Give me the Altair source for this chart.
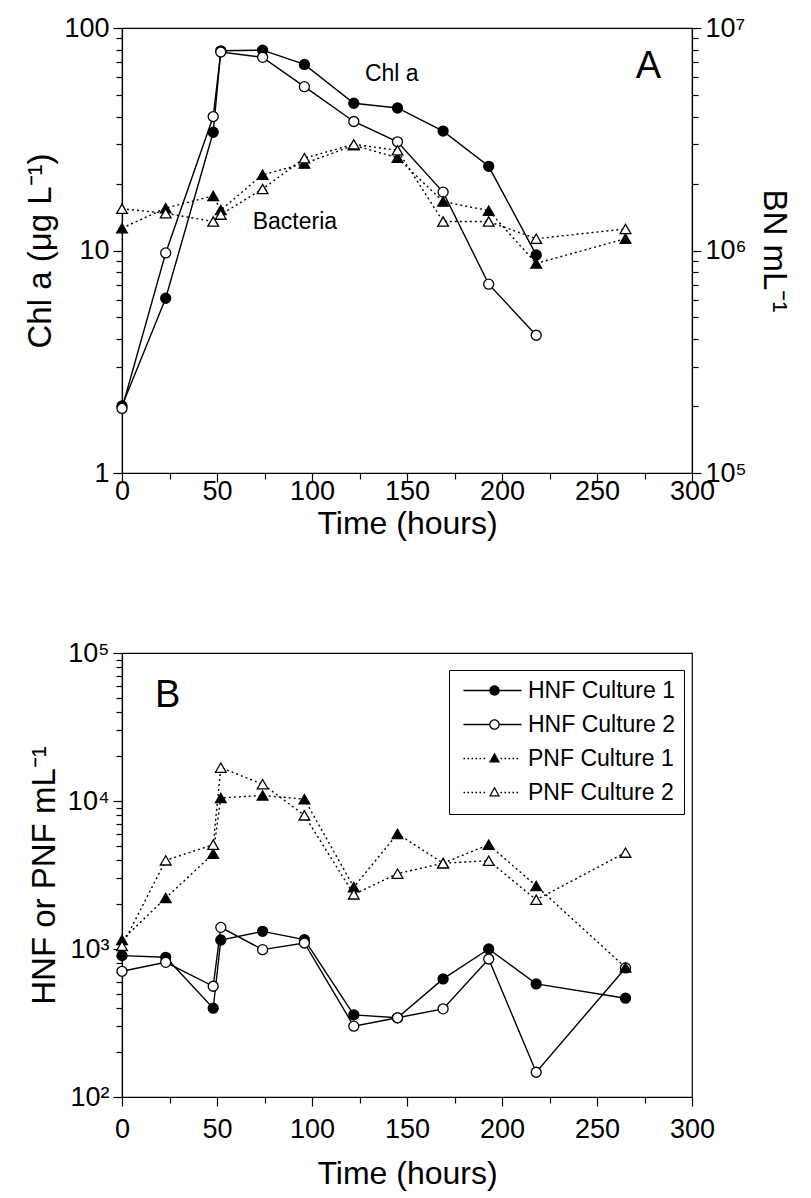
import altair as alt
import pandas as pd

# ---------------- data ----------------
times = [0, 23, 48, 52, 74, 96, 122, 145, 169, 193, 218, 265]

# Panel A: Chl a (ug/L), left axis
chl_culture1 = [2.0, 6.1, 34, 79, 79.5, 68.6, 45.9, 43.7, 34.4, 23.9, 9.55, None]
chl_culture2 = [1.95, 9.75, 40, 78, 73.8, 54.5, 38, 30.8, 18.3, 7.06, 4.16, None]
# Panel A: bacteria (BN/mL), right axis
bact_culture1 = [1.26e6, 1.55e6, 1.76e6, 1.52e6, 2.19e6, 2.46e6, 2.97e6, 2.61e6, 1.66e6, 1.51e6, 0.875e6, 1.13e6]
bact_culture2 = [1.54e6, 1.47e6, 1.35e6, 1.45e6, 1.89e6, 2.60e6, 3.0e6, 2.82e6, 1.35e6, 1.35e6, 1.13e6, 1.25e6]

# Panel B: HNF / PNF per mL
hnf_culture1 = [902, 879, 398, 1150, 1316, 1156, 359, 343, 628, 1000, 581, 465]
hnf_culture2 = [707, 813, 560, 1400, 990, 1098, 301, 343, 394, 856, 147, 745]
pnf_culture1 = [1150, 2210, 4400, 10500, 10900, 10300, 2620, 6000, 3800, 5070, 2670, 750]
pnf_culture2 = [1050, 3970, 5070, 16800, 13000, 8000, 2340, 3230, 3800, 3950, 2150, 4480]

legend_names = ["HNF Culture 1", "HNF Culture 2", "PNF Culture 1", "PNF Culture 2"]

# annotation positions in data units
chl_label = ("Chl a", 142, 62)
bact_label = ("Bacteria", 91, 1.35e6)
panelA_label = ("A", 277, 67)
panelB_label = ("B", 24, 51000)


def long_df(names_values):
    rows = []
    for name, vals in names_values:
        for t, v in zip(times, vals):
            if v is not None:
                rows.append({"t": t, "v": v, "series": name})
    return pd.DataFrame(rows)


dfChl = long_df([("Chl 1", chl_culture1), ("Chl 2", chl_culture2)])
dfBact = long_df([("Bact 1", bact_culture1), ("Bact 2", bact_culture2)])
dfB = long_df(list(zip(legend_names, [hnf_culture1, hnf_culture2, pnf_culture1, pnf_culture2])))

FONT = "Liberation Sans"
TICK_MAJOR = 9
TICK_MINOR = 6
YTITLE = 33

x_ticks = list(range(0, 301, 25))


def make_x(label_pad, title_pad):
    return alt.X(
        "t:Q",
        scale=alt.Scale(domain=[0, 300], nice=False, zero=False),
        axis=alt.Axis(
            values=x_ticks,
            labelExpr="datum.value % 50 == 0 ? datum.label : ''",
            tickSize={"condition": {"test": "datum.value % 50 == 0", "value": TICK_MAJOR}, "value": TICK_MINOR},
            title="Time (hours)",
            titleFontSize=32,
            labelFlush=False,
            labelOverlap=False,
            labelPadding=label_pad,
            titlePadding=title_pad,
        ),
    )


xA = make_x(-4, 4)
xB = make_x(10, 16)


def log_values(lo_exp, hi_exp):
    vals = []
    for e in range(lo_exp, hi_exp):
        for m in range(1, 10):
            vals.append(m * 10 ** e)
    vals.append(10 ** hi_exp)
    return vals


major_test = "abs(log(datum.value)/LN10 - round(log(datum.value)/LN10)) < 1e-6"
sup = {"0": "⁰", "1": "¹", "2": "²", "3": "³", "4": "⁴", "5": "⁵", "6": "⁶", "7": "⁷"}


def pow_label_expr(lo, hi):
    parts = []
    for e in range(lo, hi + 1):
        parts.append(f"abs(datum.value - {10 ** e}) < {10 ** e * 1e-6} ? '10{sup[str(e)]}'")
    return " : ".join(parts) + " : ''"


yA_left = alt.Y(
    "v:Q",
    scale=alt.Scale(type="log", domain=[1, 100], nice=False),
    axis=alt.Axis(
        orient="left",
        values=log_values(0, 2),
        labelExpr="(datum.value == 1 || datum.value == 10 || datum.value == 100) ? datum.label : ''",
        tickSize={"condition": {"test": major_test, "value": TICK_MAJOR}, "value": TICK_MINOR},
        title="Chl a (μg L⁻¹)",
        titleFontSize=YTITLE,
        labelOverlap=False,
        labelPadding=4,
        titlePadding=6,
        format="d",
    ),
)

yA_right = alt.Y(
    "v:Q",
    scale=alt.Scale(type="log", domain=[1e5, 1e7], nice=False),
    axis=alt.Axis(
        orient="right",
        values=log_values(5, 7),
        labelExpr=pow_label_expr(5, 7),
        tickSize={"condition": {"test": major_test, "value": TICK_MAJOR}, "value": TICK_MINOR},
        title="BN mL⁻¹",
        titleFontSize=YTITLE,
        labelOverlap=False,
        labelPadding=4,
        titlePadding=10,
    ),
)

yB = alt.Y(
    "v:Q",
    scale=alt.Scale(type="log", domain=[1e2, 1e5], nice=False),
    axis=alt.Axis(
        orient="left",
        values=log_values(2, 5),
        labelExpr=pow_label_expr(2, 5),
        tickSize={"condition": {"test": major_test, "value": TICK_MAJOR}, "value": TICK_MINOR},
        title="HNF or PNF mL⁻¹",
        titleFontSize=YTITLE,
        labelOverlap=False,
        labelPadding=4,
        titlePadding=6,
    ),
)


def series_layers(df, name, x, y, dashed, shape, filled):
    base = alt.Chart(df).transform_filter(alt.datum.series == name)
    line_kw = dict(color="black", strokeWidth=1.4)
    if dashed:
        line_kw["strokeDash"] = [2, 3]
    line = base.mark_line(**line_kw).encode(x=x, y=y)
    pts = base.mark_point(
        shape=shape,
        size=100 if shape == "circle" else 115,
        filled=True,
        fill="black" if filled else "white",
        stroke="black",
        strokeWidth=1.3,
        opacity=1,
    ).encode(x=x, y=y)
    return line, pts


def text_layer(label, x, y, size):
    txt, tx, ty = label
    df = pd.DataFrame({"t": [tx], "v": [ty], "txt": [txt]})
    return alt.Chart(df).mark_text(
        font=FONT, fontSize=size, color="black", align="center", baseline="middle"
    ).encode(x=x, y=y, text="txt:N")


# ---------------- Panel A ----------------
c1l, c1p = series_layers(dfChl, "Chl 1", xA, yA_left, False, "circle", True)
c2l, c2p = series_layers(dfChl, "Chl 2", xA, yA_left, False, "circle", False)
b1l, b1p = series_layers(dfBact, "Bact 1", xA, yA_right, True, "triangle-up", True)
b2l, b2p = series_layers(dfBact, "Bact 2", xA, yA_right, True, "triangle-up", False)

chl_group = alt.layer(
    c1l, c2l, c1p, c2p,
    text_layer(chl_label, xA, yA_left, 23),
    text_layer(panelA_label, xA, yA_left, 38),
)
bact_group = alt.layer(b1l, b2l, b1p, b2p, text_layer(bact_label, xA, yA_right, 23))

panelA = alt.layer(chl_group, bact_group).resolve_scale(y="independent").properties(width=570, height=445)

# ---------------- Panel B ----------------
h1l, h1p = series_layers(dfB, "HNF Culture 1", xB, yB, False, "circle", True)
h2l, h2p = series_layers(dfB, "HNF Culture 2", xB, yB, False, "circle", False)
p1l, p1p = series_layers(dfB, "PNF Culture 1", xB, yB, True, "triangle-up", True)
p2l, p2p = series_layers(dfB, "PNF Culture 2", xB, yB, True, "triangle-up", False)


# legend symbols: line + marker drawn as filled paths (pixel units, symbolSize=4)
X0, X1, MX = -6.0, 52.0, 25.0


def solid_seg(a, b):
    return f"M{a:.2f},-0.7H{b:.2f}V0.7H{a:.2f}Z"


def dotted_seg(a, b):
    out = []
    x = a
    while x + 1.6 <= b:
        out.append(f"M{x:.2f},-0.8h1.6v1.6h-1.6Z")
        x += 4.0
    return "".join(out)


def circle(r, cw=True):
    s = 1 if cw else 0
    return f"M{MX + r:.2f},0A{r},{r} 0 1,{s} {MX - r:.2f},0A{r},{r} 0 1,{s} {MX + r:.2f},0Z"


def tri(scale, cw=True):
    cy = 0.67
    pts = [(0, -6.67), (5.5, 3.33), (-5.5, 3.33)]
    pts = [(MX + px * scale, cy + py * scale) for px, py in pts]
    if not cw:
        pts = [pts[0], pts[2], pts[1]]
    return "M" + "L".join(f"{px:.2f},{py:.2f}" for px, py in pts) + "Z"


path_hnf1 = solid_seg(X0, X1) + circle(5.2)
path_hnf2 = solid_seg(X0, MX - 5.3) + solid_seg(MX + 5.3, X1) + circle(5.3) + circle(4.0, cw=False)
path_pnf1 = dotted_seg(X0, MX - 6) + dotted_seg(MX + 6, X1) + tri(1.0)
path_pnf2 = dotted_seg(X0, MX - 6) + dotted_seg(MX + 6, X1) + tri(1.0) + tri(0.62, cw=False)

legend_layer = alt.Chart(dfB).mark_point(filled=True, color="black", opacity=0, size=4).encode(
    x=xB,
    y=yB,
    shape=alt.Shape(
        "series:N",
        scale=alt.Scale(domain=legend_names, range=[path_hnf1, path_hnf2, path_pnf1, path_pnf2]),
        legend=alt.Legend(
            title=None,
            orient="none",
            legendX=327,
            legendY=17,
            padding=9,
            strokeColor="black",
            fillColor="white",
            labelFont=FONT,
            labelFontSize=23,
            labelColor="black",
            labelOffset=47,
            symbolSize=4,
            symbolStrokeWidth=0,
            symbolFillColor="black",
            symbolOpacity=1,
            rowPadding=10,
            labelLimit=300,
        ),
    ),
)

panelB = alt.layer(
    h1l, h2l, p1l, p2l, h1p, h2p, p1p, p2p,
    text_layer(panelB_label, xB, yB, 38),
    legend_layer,
).properties(width=570, height=444)

chart = (
    alt.vconcat(panelA, panelB, spacing=98)
    .resolve_legend(shape="independent")
    .properties(padding={"left": 24, "top": 13, "right": 4, "bottom": 4}, background="white")
    .configure_view(stroke="black", strokeWidth=1.2)
    .configure_axis(
        grid=False,
        domainColor="black",
        domainWidth=1.2,
        tickColor="black",
        tickWidth=1.2,
        labelColor="black",
        titleColor="black",
        labelFont=FONT,
        titleFont=FONT,
        labelFontSize=27,
        titleFontSize=30,
        titleFontWeight="normal",
    )
)

chart.save("out.html", embed_options={"renderer": "svg", "actions": False})
